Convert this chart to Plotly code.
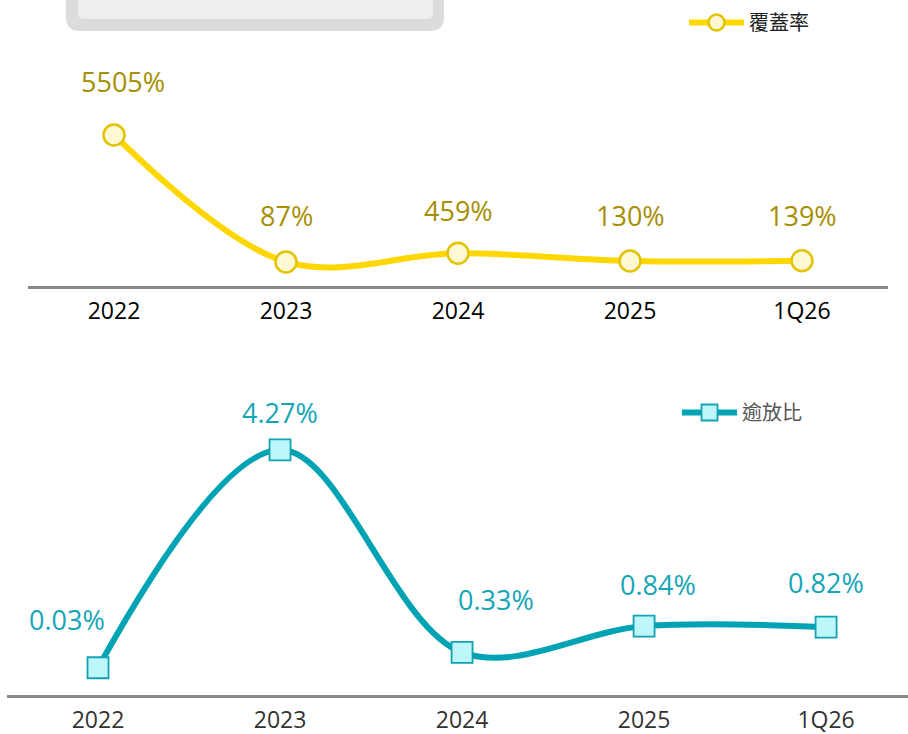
import plotly.graph_objects as go

periods = ["2022", "2023", "2024", "2025", "1Q26"]
coverage = [5505, 87, 459, 130, 139]          # 覆蓋率 (%)
npl_ratio = [0.03, 4.27, 0.33, 0.84, 0.82]    # 逾放比 (%)

cov_labels = [f"{v}%" for v in coverage]
npl_labels = [f"{v:.2f}%" for v in npl_ratio]

W, H = 908, 734
GOLD_LINE = "#FFD700"
GOLD_TEXT = "#A68F00"
TEAL_LINE = "#00A3B4"
TEAL_TEXT = "#14A5B6"

fig = go.Figure()

fig.add_trace(go.Scatter(
    x=periods, y=coverage, name="覆蓋率", mode="lines+markers",
    line=dict(color=GOLD_LINE, width=6, shape="spline", smoothing=1),
    marker=dict(symbol="circle", size=21, color="#FFF8D2",
                line=dict(color="#E3C300", width=2.5)),
    xaxis="x", yaxis="y", legend="legend", hoverinfo="skip",
))

fig.add_trace(go.Scatter(
    x=periods, y=npl_ratio, name="逾放比", mode="lines+markers",
    line=dict(color=TEAL_LINE, width=6, shape="spline", smoothing=1),
    marker=dict(symbol="square", size=21, color="#BDF6FB",
                line=dict(color="#13A2B1", width=1.8)),
    xaxis="x2", yaxis="y2", legend="legend2", hoverinfo="skip",
))

# value labels; x is the category index on each axis
annotations = []
cov_shift = [(9, 53), (0, 46), (0, 43), (0, 45), (0, 45)]
for i, (v, t, (dx, dy)) in enumerate(zip(coverage, cov_labels, cov_shift)):
    annotations.append(dict(x=i, y=v, xref="x", yref="y", text=t, showarrow=False,
                            xshift=dx, yshift=dy,
                            font=dict(size=27, color=GOLD_TEXT, family="Open Sans")))
npl_shift = [(-31, 48), (0, 37), (34, 53), (14, 42), (0, 45)]
for i, (v, t, (dx, dy)) in enumerate(zip(npl_ratio, npl_labels, npl_shift)):
    annotations.append(dict(x=i, y=v, xref="x2", yref="y2", text=t, showarrow=False,
                            xshift=dx, yshift=dy,
                            font=dict(size=27, color=TEAL_TEXT, family="Open Sans")))


def rounded_bottom(x0, x1, y_top, y_bot, r):
    # rectangle in pixel space (top edge off-canvas) with rounded bottom corners
    px = lambda x: x / W
    py = lambda y: 1 - y / H
    return (f"M {px(x0)},{py(y_top)} L {px(x0)},{py(y_bot - r)} "
            f"Q {px(x0)},{py(y_bot)} {px(x0 + r)},{py(y_bot)} "
            f"L {px(x1 - r)},{py(y_bot)} Q {px(x1)},{py(y_bot)} {px(x1)},{py(y_bot - r)} "
            f"L {px(x1)},{py(y_top)} Z")


shapes = [
    dict(type="path", xref="paper", yref="paper", path=rounded_bottom(66, 444, -20, 31, 14),
         fillcolor="#DCDCDC", line=dict(width=0), layer="below"),
    dict(type="path", xref="paper", yref="paper", path=rounded_bottom(78, 433, -20, 19, 6),
         fillcolor="#EEEEEE", line=dict(width=0), layer="below"),
]

axis_common = dict(showgrid=False, zeroline=False, showline=True, linecolor="#888888",
                   linewidth=3, ticks="", type="category", ticklabelstandoff=2,
                   automargin=False)

fig.update_layout(
    width=W, height=H, margin=dict(l=0, r=0, t=0, b=0, autoexpand=False),
    paper_bgcolor="white", plot_bgcolor="white",
    font=dict(family="Open Sans"),
    xaxis=dict(**axis_common, domain=[28 / W, 888 / W], range=[-0.5, 4.5],
               tickfont=dict(size=23, color="#000000", weight=500), anchor="y"),
    yaxis=dict(domain=[1 - 286 / H, 1 - 50 / H], range=[-938, 9130],
               visible=False, fixedrange=True, automargin=False),
    xaxis2=dict(**axis_common, domain=[7 / W, 1.0], range=[-0.5, 4.45],
                tickfont=dict(size=23, color="#333333", weight=500), anchor="y2"),
    yaxis2=dict(domain=[1 - 695 / H, 1 - 400 / H], range=[-0.5, 5.24],
                visible=False, fixedrange=True, automargin=False),
    legend=dict(x=684 / W, y=1 - 3 / H, xanchor="left", yanchor="top",
                bgcolor="rgba(0,0,0,0)", itemwidth=55,
                font=dict(size=20, color="#222222", family="Noto Sans CJK TC")),
    legend2=dict(x=677 / W, y=1 - 393 / H, xanchor="left", yanchor="top",
                 bgcolor="rgba(0,0,0,0)", itemwidth=55,
                 font=dict(size=20, color="#555555", family="Noto Sans CJK TC")),
    annotations=annotations, shapes=shapes, showlegend=True,
)

fig.write_html("out.html")
